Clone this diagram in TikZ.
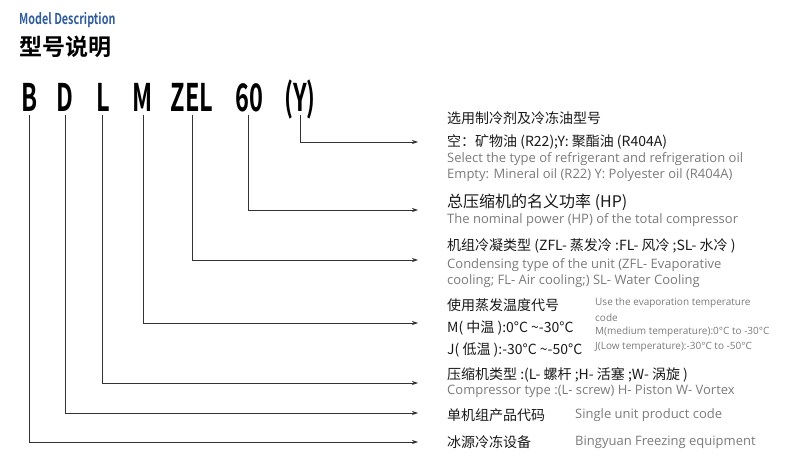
\documentclass[tikz,border=0pt]{standalone}
\usetikzlibrary{arrows.meta}
\usepackage{fontspec}
\setmainfont{Noto Sans CJK SC}
\newfontfamily\cjkb{Noto Sans CJK SC Bold}
\newfontfamily\lat{Open Sans}
\definecolor{tblue}{HTML}{2F5C9A}
\definecolor{tgray}{HTML}{7A7A7A}
\begin{document}
\begin{tikzpicture}[x=1pt,y=-1pt,
  cn/.style={anchor=west,inner sep=0pt,font=\fontsize{14}{14}\selectfont,text=black!90},
  en/.style={anchor=west,inner sep=0pt,font=\lat\fontsize{13}{13}\selectfont,text=tgray},
  sm/.style={anchor=west,inner sep=0pt,font=\lat\fontsize{10}{10}\selectfont,text=tgray},
  code/.style={anchor=base,inner sep=0pt,font=\cjkb\fontsize{38}{38}\selectfont},
  ln/.style={draw=black!80,line width=0.7pt},
  ar/.style={ln,-{Stealth[length=6pt,width=4pt]}}]
\useasboundingbox (0,0) rectangle (804,465);
\node[anchor=west,inner sep=0pt,text=tblue,font=\cjkb\fontsize{15}{15}\selectfont] (t1) at (19,20) {\scalebox{0.72}[1]{Model Description}};
\node[anchor=west,inner sep=0pt,font=\cjkb\fontsize{23}{23}\selectfont] (t2) at (19,47) {型号说明};
\foreach \n/\x/\t in {cB/30/B,cD/65/D,cL/103/L,cM/143/M,cZ/192/ZEL,c6/249/60,cY/300/(Y)}
  \node[code] (\n) at (\x,112) {\scalebox{0.62}[1]{\t}};
\foreach \n/\x/\y in {cB/29/442,cD/65/413,cL/102/383,cM/143/323,cZ/192/260,c6/248/210,cY/300/142}{
  \coordinate (e\n) at (418,\y);
  \draw[ar] (\x,115) |- (e\n);}
\node[cn] (a1) at (447,118) {选用制冷剂及冷冻油型号};
\node[cn] (a2) at (447,142) {空：矿物油 (R22);Y: 聚酯油 (R404A)};
\node[en] (a3) at (447,159) {Select the type of refrigerant and refrigeration oil};
\node[en] (a4) at (447,175) {Empty: Mineral oil (R22) Y: Polyester oil (R404A)};
\node[cn,font=\fontsize{16}{16}\selectfont] (b1) at (447,202) {总压缩机的名义功率 (HP)};
\node[en] (b2) at (447,220) {The nominal power (HP) of the total compressor};
\node[cn] (c1) at (447,246) {机组冷凝类型 (ZFL- 蒸发冷 :FL- 风冷 ;SL- 水冷 )};
\node[en] (c2) at (447,265) {Condensing type of the unit (ZFL- Evaporative};
\node[en] (c3) at (447,281) {cooling; FL- Air cooling;) SL- Water Cooling};
\node[cn] (d1) at (447,305) {使用蒸发温度代号};
\node[cn] (d2) at (447,328) {M( 中温 ):0°C \textasciitilde-30°C};
\node[cn] (d3) at (447,350) {J( 低温 ):-30°C \textasciitilde-50°C};
\node[sm] (d4) at (595,303) {Use the evaporation temperature};
\node[sm] (d5) at (595,318) {code};
\node[sm] (d6) at (595,332) {M(medium temperature):0°C to -30°C};
\node[sm] (d7) at (595,347) {J(Low temperature):-30°C to -50°C};
\node[cn] (e1) at (447,375) {压缩机类型 :(L- 螺杆 ;H- 活塞 ;W- 涡旋 )};
\node[en] (e2) at (447,391) {Compressor type :(L- screw) H- Piston W- Vortex};
\node[cn] (f1) at (447,415) {单机组产品代码};
\node[en] (f2) at (575,415) {Single unit product code};
\node[cn] (g1) at (447,442) {冰源冷冻设备};
\node[en] (g2) at (575,442) {Bingyuan Freezing equipment};
\end{tikzpicture}
\end{document}
